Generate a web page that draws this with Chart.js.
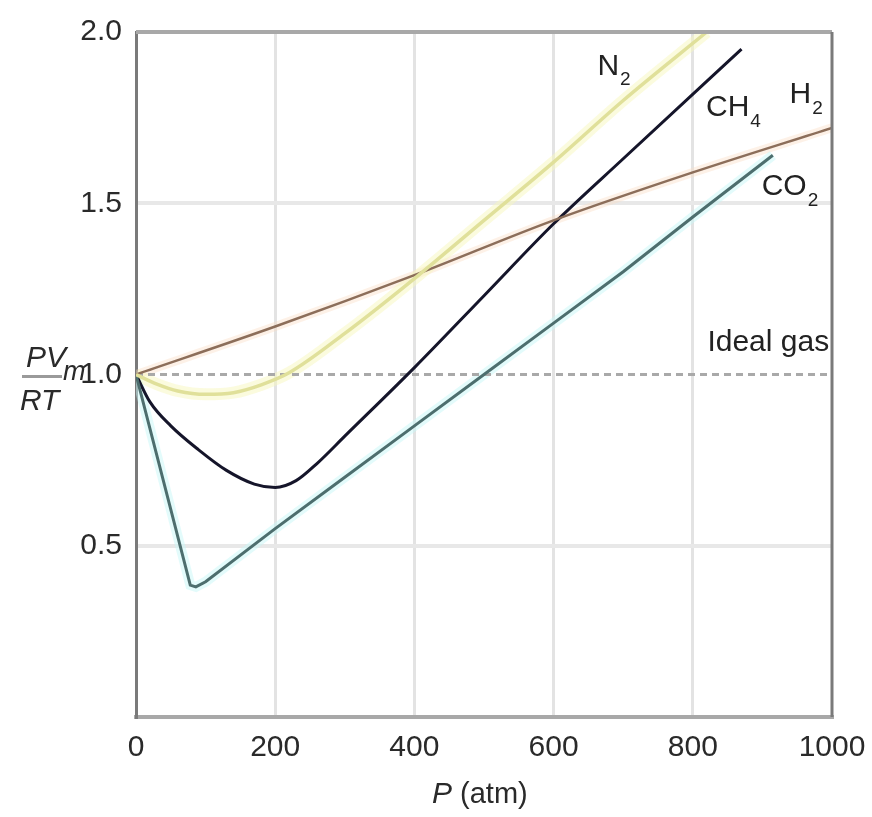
<!DOCTYPE html>
<html>
<head>
<meta charset="utf-8">
<style>
  html, body { margin: 0; padding: 0; background: #ffffff; }
  #wrap { width: 872px; height: 817px; position: relative; }
  canvas { display: block; }
</style>
<script src="https://cdn.jsdelivr.net/npm/chart.js@4.4.1/dist/chart.umd.min.js"></script>
</head>
<body>
<div id="wrap"><canvas id="c" width="872" height="817"></canvas></div>
<script>
// ---- data ----
const xTicks = [0, 200, 400, 600, 800, 1000];
const yTicks = [0.5, 1.0, 1.5, 2.0];

const n2P  = [0, 30, 60, 100, 140, 180, 220, 300, 400, 500, 600, 700, 820];
const n2Z  = [1.0, 0.972, 0.952, 0.942, 0.947, 0.97, 1.005, 1.12, 1.28, 1.45, 1.62, 1.80, 2.0];

const ch4P = [0, 20, 50, 90, 130, 170, 200, 230, 260, 300, 400, 500, 600, 700, 870];
const ch4Z = [1.0, 0.92, 0.85, 0.78, 0.72, 0.68, 0.67, 0.69, 0.74, 0.82, 1.02, 1.23, 1.44, 1.63, 1.95];

const h2P  = [0, 200, 400, 600, 800, 1000];
const h2Z  = [1.0, 1.14, 1.29, 1.45, 1.59, 1.72];

const co2P = [0, 78, 86, 100, 200, 300, 400, 500, 600, 700, 800, 915];
const co2Z = [1.0, 0.385, 0.38, 0.395, 0.55, 0.70, 0.85, 1.0, 1.15, 1.30, 1.46, 1.64];

const idealP = [0, 1000];
const idealZ = [1.0, 1.0];

// labels: [main text, subscript, anchor P, anchor Z]
const curveLabels = [
  ['N', '2', 663, 1.90],
  ['CH', '4', 819, 1.78],
  ['H', '2', 939, 1.816],
  ['CO', '2', 899, 1.548],
  ['Ideal gas', '', 821, 1.093]
];

const FONT = "'Liberation Sans', Arial, sans-serif";

function pts(P, Z) { return P.map((p, i) => ({ x: p, y: Z[i] })); }

function line(P, Z, color, width, order, extra) {
  return Object.assign({
    data: pts(P, Z),
    borderColor: color,
    borderWidth: width,
    pointRadius: 0,
    fill: false,
    cubicInterpolationMode: 'monotone',
    order: order
  }, extra || {});
}

const straight = { cubicInterpolationMode: 'default', tension: 0 };

const datasets = [
  line(idealP, idealZ, '#a9a9a9', 3, 1, { borderDash: [7, 5] }),
  line(n2P, n2Z, 'rgba(248,248,190,0.5)', 12, 6),
  line(co2P, co2Z, 'rgba(200,248,248,0.5)', 10, 6, straight),
  line(h2P, h2Z, 'rgba(250,220,195,0.4)', 9, 6),
  line(n2P, n2Z, '#e0e09a', 3.5, 0),
  line(h2P, h2Z, '#8c6e5a', 2.5, 0),
  line(co2P, co2Z, '#4d6e6e', 3, 0, straight),
  line(ch4P, ch4Z, '#15152a', 3, 0)
];

const decor = {
  id: 'decor',
  beforeDraw(chart) {
    const ctx = chart.ctx;
    ctx.save();
    ctx.fillStyle = '#ffffff';
    ctx.fillRect(0, 0, chart.width, chart.height);
    ctx.restore();
  },
  afterDraw(chart) {
    const ctx = chart.ctx;
    const a = chart.chartArea;
    const xs = chart.scales.x, ys = chart.scales.y;
    ctx.save();
    // top and right frame
    ctx.strokeStyle = '#a8a8a8';
    ctx.lineWidth = 4;
    ctx.beginPath(); ctx.moveTo(a.left, a.top); ctx.lineTo(a.right, a.top); ctx.stroke();
    ctx.strokeStyle = '#7a7a7a';
    ctx.lineWidth = 3;
    ctx.beginPath(); ctx.moveTo(a.right, a.top); ctx.lineTo(a.right, a.bottom); ctx.stroke();

    // curve labels
    ctx.fillStyle = '#222';
    ctx.textBaseline = 'middle';
    ctx.textAlign = 'left';
    curveLabels.forEach(([t, s, p, z]) => {
      const x = xs.getPixelForValue(p), y = ys.getPixelForValue(z);
      ctx.font = '30px ' + FONT;
      ctx.fillText(t, x, y);
      const w = ctx.measureText(t).width;
      if (s) {
        ctx.font = '19px ' + FONT;
        ctx.fillText(s, x + w + 1, y + 14);
      }
    });

    // y-axis label PV_m / RT
    const yc = ys.getPixelForValue(1.0);
    ctx.fillStyle = '#2a2a2a';
    ctx.font = 'italic 30px ' + FONT;
    ctx.textAlign = 'left';
    ctx.textBaseline = 'alphabetic';
    ctx.fillText('PV', 26, yc - 8);
    ctx.fillText('RT', 20, yc + 35);
    ctx.font = 'italic 27px ' + FONT;
    ctx.fillText('m', 63, yc + 5);
    ctx.strokeStyle = '#9a9a9a';
    ctx.lineWidth = 3;
    ctx.beginPath(); ctx.moveTo(22, yc + 2); ctx.lineTo(62, yc + 2); ctx.stroke();

    // x-axis title
    ctx.fillStyle = '#2a2a2a';
    ctx.textBaseline = 'middle';
    const sx = 432;
    ctx.font = 'italic 30px ' + FONT;
    const pw = ctx.measureText('P').width;
    ctx.fillText('P', sx, 795);
    ctx.font = '29px ' + FONT;
    ctx.fillText(' (atm)', sx + pw, 795);
    ctx.restore();
  }
};

new Chart(document.getElementById('c'), {
  type: 'line',
  data: { datasets },
  options: {
    responsive: false,
    animation: false,
    events: [],
    layout: { padding: { top: 32, right: 40, left: 0, bottom: 0 } },
    plugins: { legend: { display: false }, tooltip: { enabled: false }, title: { display: false } },
    scales: {
      x: {
        type: 'linear',
        min: 0, max: 1000,
        afterFit(s) { s.height = 100; s.paddingRight = 0; },
        afterBuildTicks(s) { s.ticks = xTicks.map(v => ({ value: v })); },
        ticks: {
          font: { family: FONT, size: 30 },
          color: '#2a2a2a',
          padding: 13,
          maxRotation: 0,
          callback: v => String(v)
        },
        grid: {
          drawTicks: false,
          lineWidth: 3,
          color: c => (c.tick && (c.tick.value === 0 || c.tick.value === 1000)) ? 'rgba(0,0,0,0)' : '#e3e3e3'
        },
        border: { display: true, color: '#a8a8a8', width: 4 }
      },
      y: {
        type: 'linear',
        min: 0, max: 2.0,
        afterFit(s) { s.width = 136; },
        afterBuildTicks(s) { s.ticks = [0].concat(yTicks).map(v => ({ value: v })); },
        ticks: {
          font: { family: FONT, size: 30 },
          color: '#2a2a2a',
          padding: 14,
          callback: v => v === 0 ? '' : v.toFixed(1)
        },
        grid: {
          drawTicks: false,
          lineWidth: 4,
          color: c => (c.tick && (c.tick.value === 0.5 || c.tick.value === 1.5)) ? '#e8e8e8' : 'rgba(0,0,0,0)'
        },
        border: { display: true, color: '#7a7a7a', width: 3 }
      }
    }
  },
  plugins: [decor]
});
</script>
</body>
</html>
